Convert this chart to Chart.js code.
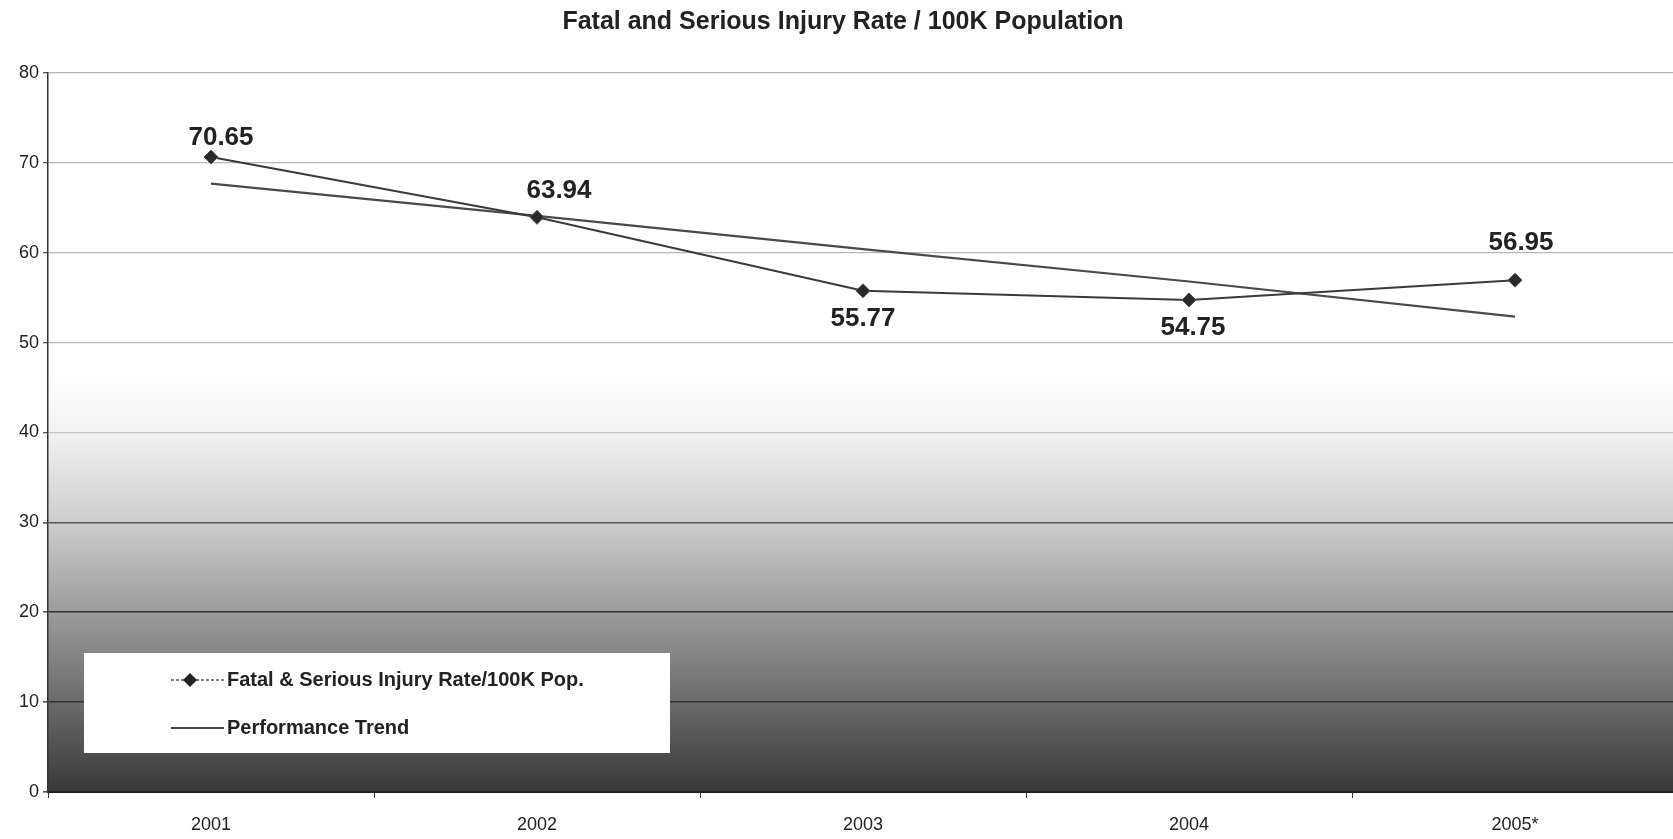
<!DOCTYPE html>
<html>
<head>
<meta charset="utf-8">
<title>Fatal and Serious Injury Rate / 100K Population</title>
<script src="https://cdn.jsdelivr.net/npm/chart.js@4/dist/chart.umd.min.js"></script>
<style>
  html, body { margin: 0; padding: 0; background: #fff; overflow: hidden; }
  #wrap { width: 1673px; height: 839px; position: relative; overflow: hidden; }
</style>
</head>
<body>
<div id="wrap"><canvas id="chart" width="1686" height="839"></canvas></div>
<script>
// Daten
const years = ['2001', '2002', '2003', '2004', '2005*'];
const injuryRate = [70.65, 63.94, 55.77, 54.75, 56.95];
const trendValues = [67.7, 64.1, 60.4, 56.8, 52.9];
const yTicks = [0, 10, 20, 30, 40, 50, 60, 70, 80];
const labelSide = ['above', 'above', 'below', 'below', 'above'];

const titleText = 'Fatal and Serious Injury Rate / 100K Population';
const seriesName = 'Fatal & Serious Injury Rate/100K Pop.';
const trendName = 'Performance Trend';

const fontFamily = "'Liberation Sans', Arial, Helvetica, sans-serif";
const ink = '#222';

// Hintergrund: weiss oben, dunkler Verlauf nach unten
const backgroundPlugin = {
    id: 'gradientBg',
    beforeDraw(chart) {
        const { ctx, chartArea: a, scales } = chart;
        const y = scales.y;
        const top = y.getPixelForValue(47);
        const bottom = y.getPixelForValue(0);
        ctx.save();
        ctx.fillStyle = '#fff';
        ctx.fillRect(a.left, a.top, a.right - a.left, a.bottom - a.top);
        const g = ctx.createLinearGradient(0, top, 0, bottom);
        g.addColorStop(0, '#ffffff');
        g.addColorStop(0.15, '#f2f2f2');
        g.addColorStop(0.36, '#cdcdcd');
        g.addColorStop(0.58, '#9a9a9a');
        g.addColorStop(0.79, '#6a6a6a');
        g.addColorStop(1, '#383838');
        ctx.fillStyle = g;
        ctx.fillRect(a.left, top, a.right - a.left, bottom - top);
        ctx.restore();

        // Titel
        ctx.save();
        ctx.fillStyle = ink;
        ctx.font = `bold 25px ${fontFamily}`;
        ctx.textAlign = 'center';
        ctx.textBaseline = 'middle';
        ctx.fillText(titleText, 843, 22);
        ctx.restore();
    }
};

// Werte an den Punkten
const valueLabelPlugin = {
    id: 'valueLabels',
    afterDatasetsDraw(chart) {
        const { ctx } = chart;
        const meta = chart.getDatasetMeta(0);
        const shiftX = [10, 22, 0, 4, 6];
        ctx.save();
        ctx.fillStyle = ink;
        ctx.font = `bold 26px ${fontFamily}`;
        ctx.textAlign = 'center';
        ctx.textBaseline = 'middle';
        meta.data.forEach((pt, i) => {
            let dy = labelSide[i] === 'above' ? -19 : 28;
            if (i === 1) dy = -27;
            if (i === 4) dy = -37;
            ctx.fillText(injuryRate[i].toFixed(2), pt.x + shiftX[i], pt.y + dy);
        });
        ctx.restore();
    }
};

// Legende als weisser Kasten unten links
const legendBoxPlugin = {
    id: 'legendBox',
    afterDraw(chart) {
        const { ctx } = chart;
        const bx = 84, by = 653, bw = 586, bh = 100;
        ctx.save();
        ctx.fillStyle = '#fff';
        ctx.fillRect(bx, by, bw, bh);

        // Eintrag 1: Linie mit Raute
        const y1 = 680;
        ctx.strokeStyle = '#555';
        ctx.lineWidth = 1.5;
        ctx.setLineDash([3, 2]);
        ctx.beginPath();
        ctx.moveTo(171, y1);
        ctx.lineTo(224, y1);
        ctx.stroke();
        ctx.setLineDash([]);
        ctx.fillStyle = '#222';
        ctx.beginPath();
        ctx.moveTo(190, y1 - 7);
        ctx.lineTo(197, y1);
        ctx.lineTo(190, y1 + 7);
        ctx.lineTo(183, y1);
        ctx.closePath();
        ctx.fill();

        // Eintrag 2: Trendlinie
        const y2 = 728;
        ctx.strokeStyle = '#444';
        ctx.lineWidth = 2;
        ctx.beginPath();
        ctx.moveTo(171, y2);
        ctx.lineTo(224, y2);
        ctx.stroke();

        ctx.fillStyle = ink;
        ctx.font = `bold 20px ${fontFamily}`;
        ctx.textAlign = 'left';
        ctx.textBaseline = 'middle';
        ctx.fillText(seriesName, 227, y1);
        ctx.fillText(trendName, 227, y2);
        ctx.restore();
    }
};

function gridColor(v) {
    if (v >= 50) return '#b8b8b8';
    if (v === 40) return '#c4c4c4';
    if (v === 30) return '#555';
    if (v === 0) return 'rgba(0,0,0,0)';
    return '#333';
}

const ctx = document.getElementById('chart');
new Chart(ctx, {
    type: 'line',
    data: {
        labels: years,
        datasets: [
            {
                label: seriesName,
                data: injuryRate,
                borderColor: '#3a3a3a',
                backgroundColor: '#2a2a2a',
                borderWidth: 2,
                pointStyle: 'rectRot',
                pointRadius: 7,
                pointBorderColor: '#555',
                pointBorderWidth: 1,
                pointBackgroundColor: '#2a2a2a',
                tension: 0,
                order: 1
            },
            {
                label: trendName,
                data: trendValues,
                borderColor: '#4a4a4a',
                borderWidth: 2.2,
                pointRadius: 0,
                tension: 0,
                order: 2
            }
        ]
    },
    options: {
        responsive: false,
        animation: false,
        layout: { padding: { left: 0, right: 0, top: 73, bottom: 0 } },
        plugins: {
            legend: { display: false },
            title: { display: false },
            tooltip: { enabled: false }
        },
        scales: {
            x: {
                offset: true,
                afterFit: s => { s.height = 47; },
                grid: {
                    display: true,
                    offset: true,
                    drawOnChartArea: false,
                    drawTicks: true,
                    tickLength: 6,
                    tickColor: '#333'
                },
                border: { display: true, color: '#222', width: 2 },
                ticks: {
                    color: ink,
                    padding: 16,
                    font: { family: fontFamily, size: 18 }
                }
            },
            y: {
                min: 0,
                max: 80,
                afterFit: s => { s.width = 48; },
                afterBuildTicks: s => { s.ticks = yTicks.map(v => ({ value: v })); },
                grid: {
                    color: c => gridColor(c.tick.value),
                    lineWidth: c => (c.tick.value >= 40 ? 1.3 : 1.6),
                    drawTicks: true,
                    tickLength: 5,
                    tickColor: '#555'
                },
                border: { display: true, color: '#333', width: 1.5 },
                ticks: {
                    color: ink,
                    padding: 4,
                    font: { family: fontFamily, size: 18 }
                }
            }
        }
    },
    plugins: [backgroundPlugin, valueLabelPlugin, legendBoxPlugin]
});
</script>
</body>
</html>
